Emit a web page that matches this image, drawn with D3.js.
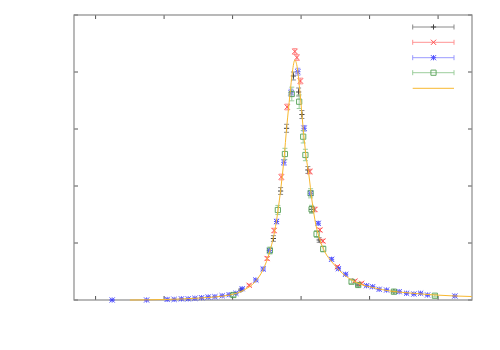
<!DOCTYPE html>
<html lang="en">
<head>
    <meta charset="UTF-8">
    <title>Peak</title>
    <script src="https://d3js.org/d3.v7.min.js"></script>
    <style>
        body { margin: 0; padding: 0; background: #fff; }
        svg { display: block; }
        .border { fill: none; stroke: #8a8a8a; stroke-width: 1.2px; }
        .tick { stroke: #555; stroke-width: 1px; }
    </style>
</head>
<body>
<div id="chart"></div>
<script>
    // x ticks, y ticks (no labels in the reference)
    const xTicks = [0, 1, 2, 3, 4, 5];
    const yTicks = [0, 1, 2, 3, 4, 5];

    // series 1 (black +)
    const blackX = [2.121, 2.596, 2.701, 2.788, 2.888, 2.964, 3.012, 3.099, 3.153, 3.264, 3.834, 4.355];
    const blackY = [0.175, 1.079, 1.912, 3.012, 3.930, 3.649, 3.254, 2.281, 1.591, 1.053, 0.263, 0.149];
    const blackE = [0.02, 0.05, 0.06, 0.07, 0.07, 0.07, 0.07, 0.06, 0.05, 0.04, 0.02, 0.02];

    // series 2 (red x)
    const redX = [2.242, 2.505, 2.606, 2.712, 2.797, 2.909, 2.939, 2.990, 3.128, 3.201, 3.274, 3.318, 3.530, 3.785, 3.883];
    const redY = [0.258, 0.728, 1.219, 2.158, 3.386, 4.360, 4.254, 3.842, 2.254, 1.588, 1.228, 1.035, 0.584, 0.333, 0.293];
    const redE = [0.02, 0.03, 0.04, 0.05, 0.05, 0.05, 0.05, 0.05, 0.04, 0.04, 0.03, 0.03, 0.02, 0.02, 0.02];

    // series 3 (blue *)
    const blueX = [0.242, 0.745, 1.045, 1.147, 1.253, 1.352, 1.450, 1.547, 1.644, 1.742, 1.848, 1.950, 2.048, 2.140,
        2.340, 2.447, 2.537, 2.642, 2.749, 2.854, 2.953, 3.044, 3.139, 3.250, 3.445, 3.545, 3.650, 3.956, 4.044,
        4.140, 4.248, 4.432, 4.540, 4.647, 4.745, 4.847, 5.245];
    const blueY = [0.000, 0.000, 0.010, 0.010, 0.020, 0.020, 0.030, 0.040, 0.053, 0.058, 0.075, 0.093, 0.118, 0.198,
        0.351, 0.544, 0.868, 1.377, 2.416, 3.637, 4.005, 3.012, 1.872, 1.346, 0.714, 0.549, 0.451, 0.251, 0.233,
        0.188, 0.175, 0.146, 0.118, 0.105, 0.118, 0.088, 0.070];
    const blueE = [0.01, 0.01, 0.01, 0.01, 0.01, 0.01, 0.01, 0.01, 0.01, 0.01, 0.01, 0.01, 0.01, 0.02,
        0.02, 0.03, 0.03, 0.04, 0.05, 0.06, 0.06, 0.05, 0.04, 0.03, 0.03, 0.02, 0.02, 0.01, 0.01,
        0.01, 0.01, 0.01, 0.01, 0.01, 0.01, 0.01, 0.01];

    // series 4 (green squares)
    const greenX = [2.011, 2.545, 2.661, 2.764, 2.864, 2.972, 3.031, 3.063, 3.139, 3.153, 3.226, 3.323, 3.737, 3.834, 4.355, 4.953];
    const greenY = [0.088, 0.868, 1.579, 2.561, 3.614, 3.479, 2.865, 2.544, 1.872, 1.591, 1.158, 0.895, 0.321, 0.263, 0.146, 0.075];
    const greenE = [0.03, 0.06, 0.08, 0.10, 0.12, 0.12, 0.11, 0.10, 0.08, 0.07, 0.06, 0.05, 0.03, 0.03, 0.02, 0.02];

    // fit curve (orange)
    const fitX = [0.501, 1.012, 1.523, 1.961, 2.180, 2.326, 2.442, 2.545, 2.618, 2.691, 2.749, 2.793, 2.837, 2.873,
        2.909, 2.945, 2.983, 3.026, 3.070, 3.114, 3.158, 3.216, 3.275, 3.348, 3.450, 3.567, 3.713, 3.859, 4.078,
        4.296, 4.588, 4.953, 5.490];
    const fitY = [0.000, 0.009, 0.035, 0.088, 0.184, 0.316, 0.526, 0.860, 1.228, 1.825, 2.456, 3.070, 3.596, 4.000,
        4.210, 4.070, 3.649, 3.070, 2.544, 2.193, 1.754, 1.316, 1.053, 0.842, 0.667, 0.509, 0.368, 0.281, 0.211,
        0.158, 0.123, 0.088, 0.061];

    const W = 500, H = 350;
    const plot = { left: 74, right: 472, top: 15, bottom: 300 };

    const x = d3.scaleLinear().domain([-0.315, 5.495]).range([plot.left, plot.right]);
    const y = d3.scaleLinear().domain([0, 5]).range([plot.bottom, plot.top]);

    const svg = d3.select("#chart").append("svg")
        .attr("width", W)
        .attr("height", H);

    // ticks on all four sides, pointing inward
    const tk = 4;
    const tg = svg.append("g");
    xTicks.forEach(t => {
        tg.append("line").attr("class", "tick")
            .attr("x1", x(t)).attr("x2", x(t)).attr("y1", plot.bottom).attr("y2", plot.bottom - tk);
        tg.append("line").attr("class", "tick")
            .attr("x1", x(t)).attr("x2", x(t)).attr("y1", plot.top).attr("y2", plot.top + tk);
    });
    yTicks.forEach(t => {
        tg.append("line").attr("class", "tick")
            .attr("x1", plot.left).attr("x2", plot.left + tk).attr("y1", y(t)).attr("y2", y(t));
        tg.append("line").attr("class", "tick")
            .attr("x1", plot.right).attr("x2", plot.right - tk).attr("y1", y(t)).attr("y2", y(t));
    });

    svg.append("rect").attr("class", "border")
        .attr("x", plot.left).attr("y", plot.top)
        .attr("width", plot.right - plot.left).attr("height", plot.bottom - plot.top);

    // marker path builders
    const s = 2.6;
    function marker(type, cx, cy) {
        if (type === "plus") return `M${cx - s},${cy}H${cx + s}M${cx},${cy - s}V${cy + s}`;
        if (type === "cross") return `M${cx - s},${cy - s}L${cx + s},${cy + s}M${cx - s},${cy + s}L${cx + s},${cy - s}`;
        if (type === "star") return `M${cx - s},${cy}H${cx + s}M${cx},${cy - s}V${cy + s}` +
            `M${cx - s},${cy - s}L${cx + s},${cy + s}M${cx - s},${cy + s}L${cx + s},${cy - s}`;
        return `M${cx - s},${cy - s}H${cx + s}V${cy + s}H${cx - s}Z`;
    }

    const series = [
        { xs: blackX, ys: blackY, es: blackE, color: "#222", bar: "#777", type: "plus" },
        { xs: redX, ys: redY, es: redE, color: "#ff3030", bar: "#ff8080", type: "cross" },
        { xs: blueX, ys: blueY, es: blueE, color: "#3535ff", bar: "#8888ff", type: "star" },
        { xs: greenX, ys: greenY, es: greenE, color: "#4a9a4a", bar: "#8cc68c", type: "square" }
    ];

    const cap = 2.5;
    series.forEach(sr => {
        const g = svg.append("g").attr("opacity", 0.85);
        const pts = sr.xs.map((v, i) => ({ x: v, y: sr.ys[i], e: sr.es[i] }));
        g.selectAll("path.err").data(pts).enter().append("path")
            .attr("fill", "none").attr("stroke", sr.bar).attr("stroke-width", 1)
            .attr("d", d => {
                const cx = x(d.x), y0 = y(d.y - d.e), y1 = y(d.y + d.e);
                return `M${cx},${y0}V${y1}M${cx - cap},${y0}H${cx + cap}M${cx - cap},${y1}H${cx + cap}`;
            });
        g.selectAll("path.mk").data(pts).enter().append("path")
            .attr("fill", "none").attr("stroke", sr.color).attr("stroke-width", 1)
            .attr("d", d => marker(sr.type, x(d.x), y(d.y)));
    });

    // fit line
    const fit = fitX.map((v, i) => ({ x: v, y: fitY[i] }));
    svg.append("path").datum(fit)
        .attr("fill", "none").attr("stroke", "#f8b830").attr("stroke-width", 1)
        .attr("d", d3.line().x(d => x(d.x)).y(d => y(d.y)).curve(d3.curveMonotoneX));

    // key
    const keyX1 = 412.7, keyX2 = 454, keyMid = 433.5;
    const keyY = [27, 42.3, 57.7, 72.7];
    series.forEach((sr, i) => {
        const ky = keyY[i];
        const kg = svg.append("g").attr("opacity", 0.85);
        kg.append("path").attr("fill", "none").attr("stroke", sr.bar).attr("stroke-width", 1)
            .attr("d", `M${keyX1},${ky}H${keyX2}M${keyX1},${ky - cap}V${ky + cap}M${keyX2},${ky - cap}V${ky + cap}`);
        kg.append("path").attr("fill", "none").attr("stroke", sr.color).attr("stroke-width", 1)
            .attr("d", marker(sr.type, keyMid, ky));
    });
    svg.append("line")
        .attr("x1", keyX1).attr("x2", keyX2).attr("y1", 88.3).attr("y2", 88.3)
        .attr("stroke", "#f8b830").attr("stroke-width", 1);
</script>
</body>
</html>
